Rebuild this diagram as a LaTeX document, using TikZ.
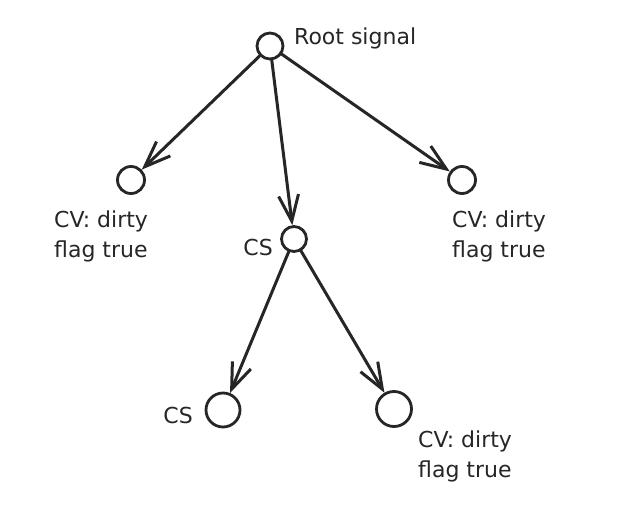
\documentclass[tikz,border=0pt]{standalone}
\usepackage{fontspec}
\setmainfont{DejaVu Sans}
\usetikzlibrary{arrows.meta}
\begin{document}
\begin{tikzpicture}[x=1pt,y=-1pt,
  nd/.style={circle,draw=black!85,line width=2.8pt,inner sep=0pt},
  lbl/.style={font=\fontsize{22}{30}\selectfont,text=black!85,inner sep=0pt,align=left},
  arr/.style={draw=black!85,line width=3pt,line cap=round,-{Straight Barb[length=26pt,width=20pt,line width=3pt]}}]
\useasboundingbox (0,0) rectangle (631,532);
\node[nd,minimum size=26pt] (root) at (270,46) {};
\node[nd,minimum size=27pt] (cvl) at (131,180) {};
\node[nd,minimum size=27pt] (cvr) at (462,180) {};
\node[nd,minimum size=25pt] (cs) at (294,239) {};
\node[nd,minimum size=34pt] (csb) at (223,410) {};
\node[nd,minimum size=35pt] (cvb) at (394,409) {};
\node[lbl,anchor=base west] (troot) at (294,45) {Root signal};
\node[lbl,anchor=north west] (tcvl) at (54,210.5) {CV: dirty\\flag true};
\node[lbl,anchor=north west] (tcvr) at (452,210.5) {CV: dirty\\flag true};
\node[lbl,anchor=base east] (tcs) at (273,255) {CS};
\node[lbl,anchor=base east] (tcsb) at (193,423) {CS};
\node[lbl,anchor=north west] (tcvb) at (418,430.5) {CV: dirty\\flag true};
\draw[arr] (root) -- (cvl);
\draw[arr] (root) -- (cs);
\draw[arr] (root) -- (cvr);
\draw[arr] (cs) -- (csb);
\draw[arr] (cs) -- (cvb);
\end{tikzpicture}
\end{document}
